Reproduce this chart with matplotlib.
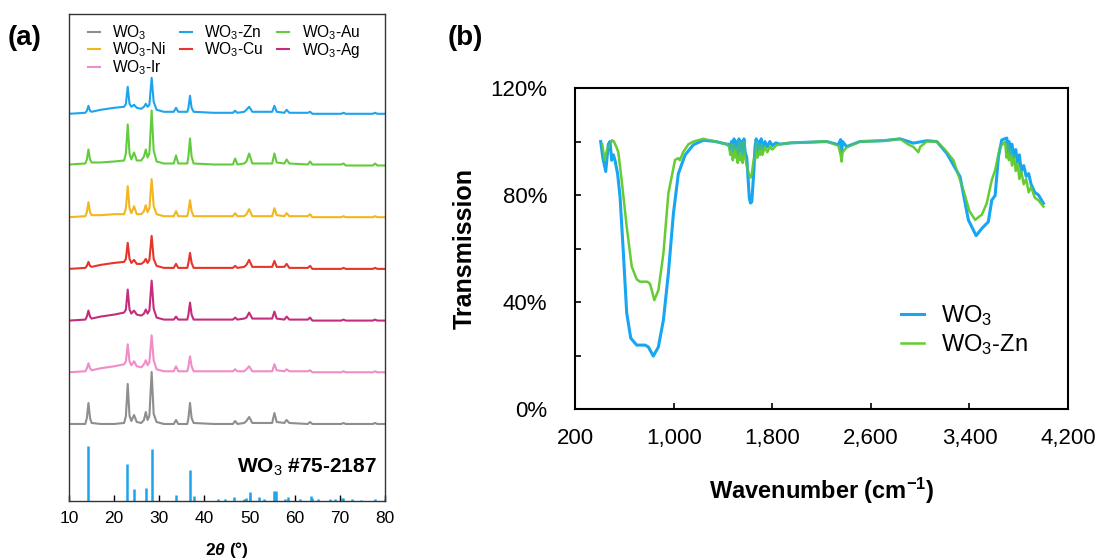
import matplotlib
matplotlib.use("Agg")
import matplotlib.pyplot as plt
from matplotlib.ticker import FuncFormatter, MultipleLocator, FixedLocator

plt.rcParams['font.family'] = ['Liberation Sans', 'DejaVu Sans']
plt.rcParams['mathtext.fontset'] = 'custom'
plt.rcParams['mathtext.rm'] = 'Liberation Sans'
plt.rcParams['mathtext.it'] = 'Liberation Sans:italic'
plt.rcParams['mathtext.bf'] = 'Liberation Sans:bold'
plt.rcParams['mathtext.bfit'] = 'Liberation Sans:italic:bold'

# ---- (a) XRD patterns, heights (arb. units) ----
two_theta = [10.0, 13.6, 13.95, 14.3, 14.65, 15.0, 17.0, 20.0, 22.2, 22.6,
             23.0, 23.4, 23.8, 24.4, 25.0, 26.0, 26.6, 27.0, 27.4, 27.8,
             28.3, 28.75, 29.4, 31.0, 33.2, 33.7, 34.2, 36.2, 36.45, 36.8,
             37.15, 37.6, 42.0, 46.3, 46.8, 47.3, 48.8, 49.3, 49.9, 50.6,
             52.0, 55.0, 55.5, 56.0, 57.7, 58.2, 58.8, 62.9, 63.4, 63.9,
             70.3, 70.8, 71.3, 77.3, 77.8, 78.3, 80.0]

xrd_wo3 = [0, 0, 6, 21, 6, 1, 0, 0, 1, 8, 40, 8, 3, 9, 2, 1, 4, 12, 4, 8,
           52, 10, 2, 0, 0, 4, 0, 0, 6, 21, 6, 1, 0, 0, 3, 0, 1, 3, 7, 1,
           1, 1, 11, 2, 1, 4, 1, 0, 2, 0, 0, 1, 0, 0, 1, 0, 0]
xrd_ir = [0, 1, 4, 9, 4, 2, 4, 6, 8, 11, 28, 11, 7, 11, 6, 5, 8, 12, 7, 10,
          37, 12, 3, 1, 1, 6, 1, 1, 6, 16, 6, 1, 1, 1, 3, 1, 1, 3, 6, 1,
          1, 1, 8, 2, 1, 3, 1, 1, 2, 0, 0, 1, 0, 0, 1, 0, 0]
xrd_ag = [0, 1, 4, 10, 4, 2, 4, 6, 8, 11, 31, 11, 7, 10, 6, 5, 7, 11, 7, 10,
          40, 12, 3, 1, 1, 4, 1, 1, 6, 18, 6, 1, 1, 1, 3, 1, 2, 3, 8, 2,
          2, 2, 9, 2, 1, 4, 1, 1, 3, 0, 0, 1, 0, 0, 1, 0, 0]
xrd_cu = [0, 1, 3, 7, 3, 2, 4, 6, 7, 10, 26, 10, 6, 9, 5, 5, 7, 10, 6, 9,
          33, 10, 3, 1, 1, 5, 1, 1, 6, 16, 6, 1, 1, 1, 3, 1, 2, 4, 9, 2,
          2, 2, 8, 2, 2, 5, 1, 1, 3, 0, 0, 1, 0, 0, 1, 0, 0]
xrd_ni = [0, 1, 5, 15, 5, 2, 2, 3, 3, 9, 31, 9, 4, 11, 3, 3, 6, 12, 5, 9,
          38, 11, 3, 1, 1, 6, 1, 1, 6, 17, 6, 1, 1, 1, 4, 1, 1, 3, 8, 1,
          1, 1, 9, 2, 1, 4, 1, 1, 3, 0, 0, 1, 0, 0, 1, 0, 0]
xrd_au = [1, 2, 6, 16, 6, 3, 3, 4, 5, 12, 41, 12, 6, 13, 5, 5, 9, 16, 8, 12,
          55, 15, 4, 2, 2, 10, 2, 2, 9, 27, 9, 2, 1, 1, 7, 1, 2, 4, 12, 2,
          2, 2, 12, 3, 2, 6, 2, 1, 4, 1, 1, 2, 0, 0, 2, 0, 0]
xrd_zn = [0, 1, 3, 8, 3, 2, 4, 6, 7, 10, 27, 10, 7, 9, 6, 5, 7, 10, 7, 9,
          36, 12, 4, 2, 2, 6, 2, 2, 6, 18, 6, 2, 1, 1, 3, 1, 2, 4, 7, 2,
          2, 2, 8, 2, 1, 4, 1, 1, 2, 0, 0, 1, 0, 0, 1, 0, 0]

# reference card WO3 #75-2187
ref_pos = [14.3, 22.9, 24.5, 27.0, 28.4, 33.7, 36.7, 37.7, 43.0, 44.6,
           46.5, 48.8, 49.2, 50.0, 52.1, 53.2, 55.5, 55.8, 57.8, 58.4,
           61.2, 63.5, 63.9, 65.1, 67.9, 68.9, 70.5, 70.8, 72.6, 74.7,
           77.7, 79.9]
ref_int = [55, 37, 12, 12.7, 52, 6, 31, 5, 2.3, 2.3, 4.3, 2.3, 2.5, 9, 4.3,
           2, 9.7, 9.7, 2.3, 4.3, 1.5, 5, 2.5, 1.5, 1.5, 1.5, 3, 3, 1.5, 1,
           2.3, 1.5]

# bottom to top
xrd_labels = ['WO$_3$', 'WO$_3$-Ir', 'WO$_3$-Ag', 'WO$_3$-Cu', 'WO$_3$-Ni', 'WO$_3$-Au', 'WO$_3$-Zn']
xrd_series = [xrd_wo3, xrd_ir, xrd_ag, xrd_cu, xrd_ni, xrd_au, xrd_zn]
xrd_colors = ['#8e8e8e', '#f08cc6', '#c42c7c', '#e8342a', '#f2b61e', '#62cc3c', '#1ea4ec']

# ---- (b) FTIR transmission (%) ----
wn_wo3 = [408, 425, 449, 470, 484, 497, 511, 524, 545, 565, 592, 619, 652, 700,
          768, 795, 835, 876, 917, 957, 998, 1038, 1093, 1160, 1241, 1340, 1431,
          1450, 1460, 1470, 1480, 1490, 1500, 1510, 1520, 1530, 1540, 1550, 1560,
          1570, 1580, 1593, 1614, 1624, 1634, 1652, 1660, 1670, 1680, 1690, 1700,
          1710, 1720, 1740, 1760, 1780, 1800, 1830, 1860, 1950, 2242, 2336, 2355,
          2363, 2370, 2403, 2512, 2700, 2837, 2945, 3053, 3135, 3216, 3324, 3391,
          3454, 3500, 3553, 3581, 3608, 3635, 3662, 3703, 3710, 3720, 3730, 3745,
          3760, 3775, 3790, 3805, 3820, 3840, 3860, 3880, 3900, 3930, 3960, 4000]
t_wo3 = [100, 94, 88.8, 99, 100, 93, 95, 93, 88, 79.4, 58.3, 35.9, 26.5, 23.9,
         23.9, 23.2, 19.8, 23.2, 33.3, 50.7, 73.1, 88, 95, 98.8, 100.5, 100, 99,
         99, 97, 100, 96, 101, 97, 100, 95, 101, 96, 100, 95,
         101, 96, 94, 78.7, 77, 77.5, 90, 98, 101, 96, 100, 97,
         101, 97, 100, 98, 100, 98.5, 99.5, 99, 99.5, 100, 98.8, 100.7,
         96, 100, 98.1, 100, 100.3, 101, 99.4, 100.3, 100, 95.6, 86.8, 70.7,
         64.8, 67.5, 70, 78.1, 79.8, 94.3, 100.6, 101.3, 96, 100, 95, 99,
         94, 97, 92, 95, 89, 91, 87, 88, 84, 81, 80, 76.9]

wn_zn = [420, 440, 460, 485, 500, 515, 535, 551, 578, 619, 660, 700, 727, 787,
         808, 825, 843, 876, 917, 957, 1011, 1038, 1050, 1079, 1120, 1160, 1241,
         1340, 1431, 1450, 1460, 1470, 1480, 1490, 1500, 1510, 1520, 1530, 1540,
         1550, 1560, 1570, 1580, 1593, 1614, 1624, 1634, 1652, 1660, 1670, 1680,
         1690, 1700, 1710, 1720, 1740, 1760, 1780, 1800, 1830, 1860, 1950, 2242,
         2336, 2355, 2363, 2370, 2403, 2512, 2700, 2837, 2900, 2945, 2985, 3000,
         3053, 3135, 3200, 3270, 3351, 3400, 3446, 3480, 3500, 3540, 3581, 3608,
         3648, 3689, 3700, 3710, 3720, 3730, 3745, 3760, 3775, 3790, 3805, 3820,
         3840, 3860, 3880, 3900, 3930, 3960, 4000]
t_zn = [99, 93, 97, 99, 100.5, 100, 98, 96, 85.6, 68.2, 53.2, 48.5, 47.6, 47.6,
        46.8, 44, 40.7, 44.4, 58.2, 80.6, 93.1, 93.8, 93, 96.2, 99, 100, 101,
        100, 99, 98, 95, 99, 93, 99, 94, 98, 92, 100, 93,
        99, 92, 100, 94, 91, 87, 86.5, 88, 94, 93, 100, 94,
        99, 95, 99, 95, 98, 96, 98, 97, 98.5, 99, 99.5, 100,
        98.5, 95, 92.5, 96, 97.8, 100, 100.3, 101, 99, 98, 96, 98,
        100, 100, 97, 93, 81.8, 74, 70.7, 72, 72.6, 76.9, 85.6, 89.3,
        98, 99.9, 94, 99, 93, 97, 91, 95, 89, 92, 86, 89,
        84, 86, 81, 83, 79, 78, 75.7]

wn_ticks = [200, 1000, 1800, 2600, 3400, 4200]

fig = plt.figure(figsize=(11.01, 5.60), dpi=100)

# ---------------- panel (a) ----------------
axa = fig.add_axes([0.0627, 0.1054, 0.287, 0.8696])
spacing = 51.7
for i, (ys, lab, col) in enumerate(zip(xrd_series, xrd_labels, xrd_colors)):
    base = 77 + i * spacing
    axa.plot(two_theta, [base + v for v in ys], color=col, lw=1.5, label=lab)
axa.vlines(ref_pos, 0, ref_int, color='#1ea4ec', lw=1.8)
axa.set_xlim(10, 80)
axa.set_ylim(0, 487)
axa.set_yticks([])
axa.xaxis.set_major_locator(MultipleLocator(10))
axa.tick_params(axis='x', direction='in', length=4, width=1, pad=7, labelsize=12.5)
for s in axa.spines.values():
    s.set_linewidth(1.0)
    s.set_color('#333333')
axa.set_xlabel(r'$\mathbf{2}\mathbfit{\theta}$ $\mathbf{(°)}$', fontsize=12.5, labelpad=10)
axa.text(0.975, 0.07, 'WO$_3$ #75-2187', transform=axa.transAxes, ha='right',
         va='center', fontsize=15, fontweight='bold')

h, l = axa.get_legend_handles_labels()
order = [0, 4, 1, 6, 3, 5, 2]   # WO3, Ni, Ir | Zn, Cu | Au, Ag
axa.legend([h[k] for k in order], [l[k] for k in order], ncol=3, loc='upper left',
           bbox_to_anchor=(0.03, 1.0), frameon=False, fontsize=11.2,
           handlelength=0.75, handletextpad=0.8, columnspacing=0.9,
           labelspacing=-0.08, borderaxespad=0.2)

# ---------------- panel (b) ----------------
axb = fig.add_axes([0.5223, 0.2696, 0.4478, 0.5732])
axb.plot(wn_wo3, t_wo3, color='#17a6f2', lw=2.2, label='WO$_3$')
axb.plot(wn_zn, t_zn, color='#66cc33', lw=1.8, label='WO$_3$-Zn')
axb.plot(wn_wo3, t_wo3, color='#17a6f2', lw=1.0, alpha=0.6)
axb.set_xlim(200, 4200)
axb.set_ylim(0, 120)
axb.xaxis.set_major_locator(FixedLocator(wn_ticks))
axb.xaxis.set_major_formatter(FuncFormatter(lambda v, p: f"{v:,.0f}"))
axb.yaxis.set_major_locator(MultipleLocator(40))
axb.yaxis.set_minor_locator(MultipleLocator(20))
axb.yaxis.set_major_formatter(FuncFormatter(lambda v, p: f"{v:.0f}%"))
axb.tick_params(axis='both', which='both', direction='in', length=4, width=1.2, labelsize=16)
axb.tick_params(axis='y', which='both', pad=20)
axb.tick_params(axis='x', pad=14)
for s in axb.spines.values():
    s.set_linewidth(1.5)
axb.set_xlabel('Wavenumber (cm$^{\\mathbf{-1}}$)', fontsize=17, fontweight='bold', labelpad=19)
axb.set_ylabel('Transmission', fontsize=18, fontweight='bold', labelpad=10)
axb.legend(loc='lower right', frameon=False, fontsize=17, handlelength=1.0,
           handletextpad=0.7, labelspacing=0.15, borderaxespad=1.0,
           bbox_to_anchor=(0.985, 0.06))

fig.text(8 / 1101, 1 - 38 / 560, '(a)', fontsize=20, fontweight='bold', va='center')
fig.text(448 / 1101, 1 - 38 / 560, '(b)', fontsize=20, fontweight='bold', va='center')

fig.savefig('out.png', dpi=100)
